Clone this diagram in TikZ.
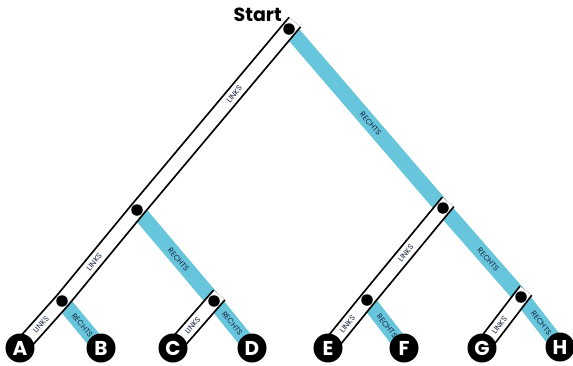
\documentclass[tikz,border=0pt]{standalone}
\usepackage{fontspec}
\setmainfont{Poppins}
\definecolor{bandblue}{RGB}{104,198,220}
\definecolor{navy}{RGB}{20,30,60}
\begin{document}
\begin{tikzpicture}[x=1pt,y=-1pt,
  whiteband/.style={draw=black, line width=1.8pt, double=white, double distance=13pt, line join=miter},
  blueband/.style={draw=bandblue, line width=15.5pt, line join=miter},
  junction/.style={circle, fill=black, inner sep=0pt, minimum size=11.5pt},
  leaf/.style={circle, fill=black, inner sep=0pt, minimum size=29pt,
    text=white, font=\fontsize{20}{20}\selectfont\bfseries},
  lbl/.style={sloped, inner sep=0pt, font=\fontsize{7.6}{8}\selectfont, text=navy}]
\useasboundingbox (0,0) rectangle (573,365);
% junction points
\coordinate (n0) at (289,29);
\coordinate (nL) at (137,210);
\coordinate (nR) at (443,208);
\coordinate (nLL) at (62,301);
\coordinate (nLR) at (214,301);
\coordinate (nRL) at (367,300);
\coordinate (nRR) at (521,297);
% leaves
\coordinate (pA) at (20,348);
\coordinate (pB) at (101,348);
\coordinate (pC) at (173,348);
\coordinate (pD) at (252,348);
\coordinate (pE) at (328,348);
\coordinate (pF) at (404,348);
\coordinate (pG) at (482,348);
\coordinate (pH) at (560,347);
% right-hand (blue) branches
\draw[blueband, shorten <=-6pt] (n0) -- (nR) -- (nRR) -- (pH);
\draw[blueband, shorten <=-5pt] (nL) -- (nLR) -- (pD);
\draw[blueband, shorten <=-5pt] (nLL) -- (pB);
\draw[blueband, shorten <=-5pt] (nRL) -- (pF);
% left-hand (white) branches
\draw[whiteband, shorten <=-9pt] (n0) -- (nL) -- (nLL) -- (pA);
\draw[whiteband, shorten <=-8pt] (nLR) -- (pC);
\draw[whiteband, shorten <=-8pt] (nR) -- (nRL) -- (pE);
\draw[whiteband, shorten <=-8pt] (nRR) -- (pG);
% junction dots
\foreach \j in {n0,nL,nR,nLL,nLR,nRL,nRR} \node[junction] (d\j) at (\j) {};
% leaves
\node[leaf] (A) at (pA) {A};
\node[leaf] (B) at (pB) {B};
\node[leaf] (C) at (pC) {C};
\node[leaf] (D) at (pD) {D};
\node[leaf] (E) at (pE) {E};
\node[leaf] (F) at (pF) {F};
\node[leaf] (G) at (pG) {G};
\node[leaf] (H) at (pH) {H};
% start label
\node[anchor=base east, inner sep=0pt, font=\fontsize{19}{19}\selectfont\bfseries] (start) at (282,21) {Start};
% branch labels
\path (nL) -- (n0) node[lbl, pos=0.64] {LINKS};
\path (n0) -- (nR) node[lbl, pos=0.53] {RECHTS};
\path (nLL) -- (nL) node[lbl, pos=0.43] {LINKS};
\path (nL) -- (pD) node[lbl, pos=0.36] {RECHTS};
\path (pA) -- (nLL) node[lbl, pos=0.5] {LINKS};
\path (nLL) -- (pB) node[lbl, pos=0.52] {RECHTS};
\path (pC) -- (nLR) node[lbl, pos=0.48] {LINKS};
\path (nLR) -- (pD) node[lbl, pos=0.48] {RECHTS};
\path (nRL) -- (nR) node[lbl, pos=0.51] {LINKS};
\path (nR) -- (nRR) node[lbl, pos=0.58] {RECHTS};
\path (pE) -- (nRL) node[lbl, pos=0.5] {LINKS};
\path (nRL) -- (pF) node[lbl, pos=0.54] {RECHTS};
\path (pG) -- (nRR) node[lbl, pos=0.45] {LINKS};
\path (nRR) -- (pH) node[lbl, pos=0.52] {RECHTS};
\end{tikzpicture}
\end{document}
